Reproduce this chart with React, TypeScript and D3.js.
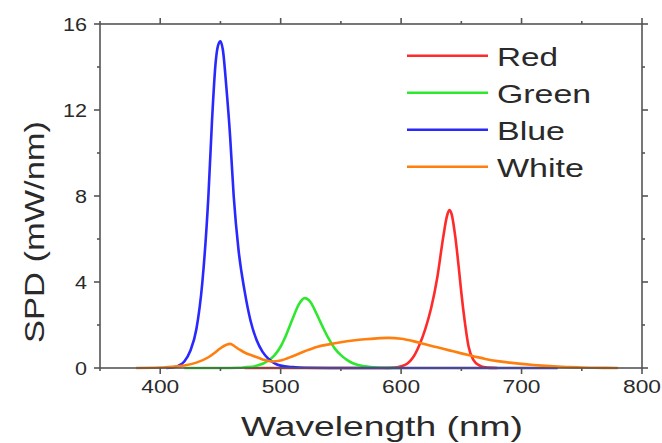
import React from "react";
import * as d3 from "d3";

// Spectral power distributions (wavelength nm, SPD mW/nm)
const redData: [number, number][] = [
  [470, 0], [520, 0], [580, 0], [590, 0], [595, 0.02], [600, 0.08], [605, 0.2], [610, 0.5], [615, 1.05],
  [620, 1.8], [625, 2.8], [630, 4.2], [635, 6.1], [638, 7.05], [640, 7.35], [642, 7.15],
  [645, 6.1], [648, 4.6], [650, 3.5], [653, 2.1], [656, 1.0], [660, 0.38], [665, 0.12],
  [670, 0.03], [680, 0],
];
const greenData: [number, number][] = [
  [420, 0], [450, 0], [465, 0.01], [470, 0.03], [480, 0.1], [490, 0.35], [495, 0.6], [500, 1.0],
  [505, 1.6], [510, 2.3], [515, 2.95], [520, 3.25], [525, 3.05], [530, 2.5], [535, 1.9],
  [540, 1.35], [545, 0.9], [550, 0.6], [555, 0.38], [560, 0.22], [570, 0.08], [580, 0.02],
  [590, 0.005], [600, 0],
];
const blueData: [number, number][] = [
  [405, 0], [410, 0.02], [415, 0.1], [420, 0.3], [425, 0.8], [430, 1.8], [435, 4.0],
  [440, 8.0], [443, 11.5], [446, 14.2], [448, 15.0], [450, 15.2], [452, 14.8], [455, 13.0],
  [458, 10.8], [461, 8.0], [465, 5.5], [470, 3.6], [475, 2.2], [480, 1.3], [485, 0.75],
  [490, 0.42], [495, 0.22], [500, 0.11], [510, 0.04], [520, 0.01], [540, 0], [600, 0],
  [680, 0], [730, 0],
];
const whiteData: [number, number][] = [
  [380, 0], [400, 0.02], [410, 0.06], [420, 0.12], [430, 0.25], [440, 0.5], [445, 0.7],
  [450, 0.92], [455, 1.08], [458, 1.12], [462, 1.0], [466, 0.85], [470, 0.72], [478, 0.55],
  [485, 0.4], [493, 0.3], [500, 0.35], [510, 0.55], [520, 0.78], [530, 0.98], [540, 1.1],
  [550, 1.2], [560, 1.28], [570, 1.34], [580, 1.38], [590, 1.4], [600, 1.36], [610, 1.25],
  [620, 1.1], [630, 0.96], [640, 0.82], [650, 0.68], [660, 0.55], [670, 0.42], [680, 0.32],
  [690, 0.25], [700, 0.19], [710, 0.14], [720, 0.1], [730, 0.07], [740, 0.04], [750, 0.025],
  [760, 0.012], [770, 0.005], [780, 0],
];

const seriesNames = ["Red", "Green", "Blue", "White"];
const seriesColors = ["#ff2a2a", "#2ee82e", "#2828ff", "#ff7f0e"];
const seriesData = [redData, greenData, blueData, whiteData];

const xMajorTicks = [400, 500, 600, 700, 800];
const xMinorTicks = [350, 450, 550, 650, 750];
const yMajorTicks = [0, 4, 8, 12, 16];
const yMinorTicks = [2, 6, 10, 14];

const W = 662;
const H = 443;
const left = 100, right = 642, top = 24, bottom = 368;

export default function App() {
  const x = d3.scaleLinear().domain([350, 800]).range([left, right]);
  const y = d3.scaleLinear().domain([0, 16]).range([bottom, top]);
  const line = d3
    .line<[number, number]>()
    .x((d) => x(d[0]))
    .y((d) => y(d[1]))
    .curve(d3.curveMonotoneX);

  const axisColor = "#555";
  const textColor = "#2a2a2a";
  const font = "'Liberation Sans', Arial, sans-serif";
  const major = 6, minor = 3;

  return (
    <svg width={W} height={H} style={{ position: "absolute", left: 0, top: 0, background: "#fff" }}>
      {/* series */}
      {seriesData.map((d, i) => (
        <path key={i} d={line(d) || ""} fill="none" stroke={seriesColors[i]} strokeWidth={2.6} strokeLinejoin="round" />
      ))}
      {/* frame */}
      <rect x={left} y={top} width={right - left} height={bottom - top} fill="none" stroke={axisColor} strokeWidth={1.6} />
      {/* x ticks bottom & top */}
      {xMajorTicks.map((t) => (
        <g key={"xm" + t}>
          <line x1={x(t)} x2={x(t)} y1={bottom} y2={bottom + major} stroke={axisColor} strokeWidth={1.6} />
          <line x1={x(t)} x2={x(t)} y1={top} y2={top - major} stroke={axisColor} strokeWidth={1.6} />
          <text x={x(t)} y={393} textAnchor="middle" fontFamily={font} fontSize={17.5} fill={textColor}
            textLength={38} lengthAdjust="spacingAndGlyphs">{t}</text>
        </g>
      ))}
      {xMinorTicks.map((t) => (
        <g key={"xn" + t}>
          <line x1={x(t)} x2={x(t)} y1={bottom} y2={bottom + minor} stroke={axisColor} strokeWidth={1.6} />
          <line x1={x(t)} x2={x(t)} y1={top} y2={top - minor} stroke={axisColor} strokeWidth={1.6} />
        </g>
      ))}
      {/* y ticks left & right */}
      {yMajorTicks.map((t) => (
        <g key={"ym" + t}>
          <line x1={left} x2={left - major} y1={y(t)} y2={y(t)} stroke={axisColor} strokeWidth={1.6} />
          <line x1={right} x2={right + major} y1={y(t)} y2={y(t)} stroke={axisColor} strokeWidth={1.6} />
          <text x={87} y={y(t) + 6.5} textAnchor="end" fontFamily={font} fontSize={17.5} fill={textColor}
            textLength={String(t).length * 12} lengthAdjust="spacingAndGlyphs">{t}</text>
        </g>
      ))}
      {yMinorTicks.map((t) => (
        <g key={"yn" + t}>
          <line x1={left} x2={left - minor} y1={y(t)} y2={y(t)} stroke={axisColor} strokeWidth={1.6} />
          <line x1={right} x2={right + minor} y1={y(t)} y2={y(t)} stroke={axisColor} strokeWidth={1.6} />
        </g>
      ))}
      {/* axis titles */}
      <text x={241} y={436} fontFamily={font} fontSize={28} fill={textColor}
        textLength={282} lengthAdjust="spacingAndGlyphs">Wavelength (nm)</text>
      <text transform="translate(44,343) rotate(-90)" fontFamily={font} fontSize={28} fill={textColor}
        textLength={222} lengthAdjust="spacingAndGlyphs">SPD (mW/nm)</text>
      {/* legend */}
      {seriesNames.map((name, i) => {
        const ly = 55.7 + i * 37;
        const widths = [61, 94, 68, 87];
        return (
          <g key={name}>
            <line x1={407} x2={488} y1={ly} y2={ly} stroke={seriesColors[i]} strokeWidth={2.6} />
            <text x={497} y={ly + 10} fontFamily={font} fontSize={26} fill={textColor}
              textLength={widths[i]} lengthAdjust="spacingAndGlyphs">{name}</text>
          </g>
        );
      })}
    </svg>
  );
}
